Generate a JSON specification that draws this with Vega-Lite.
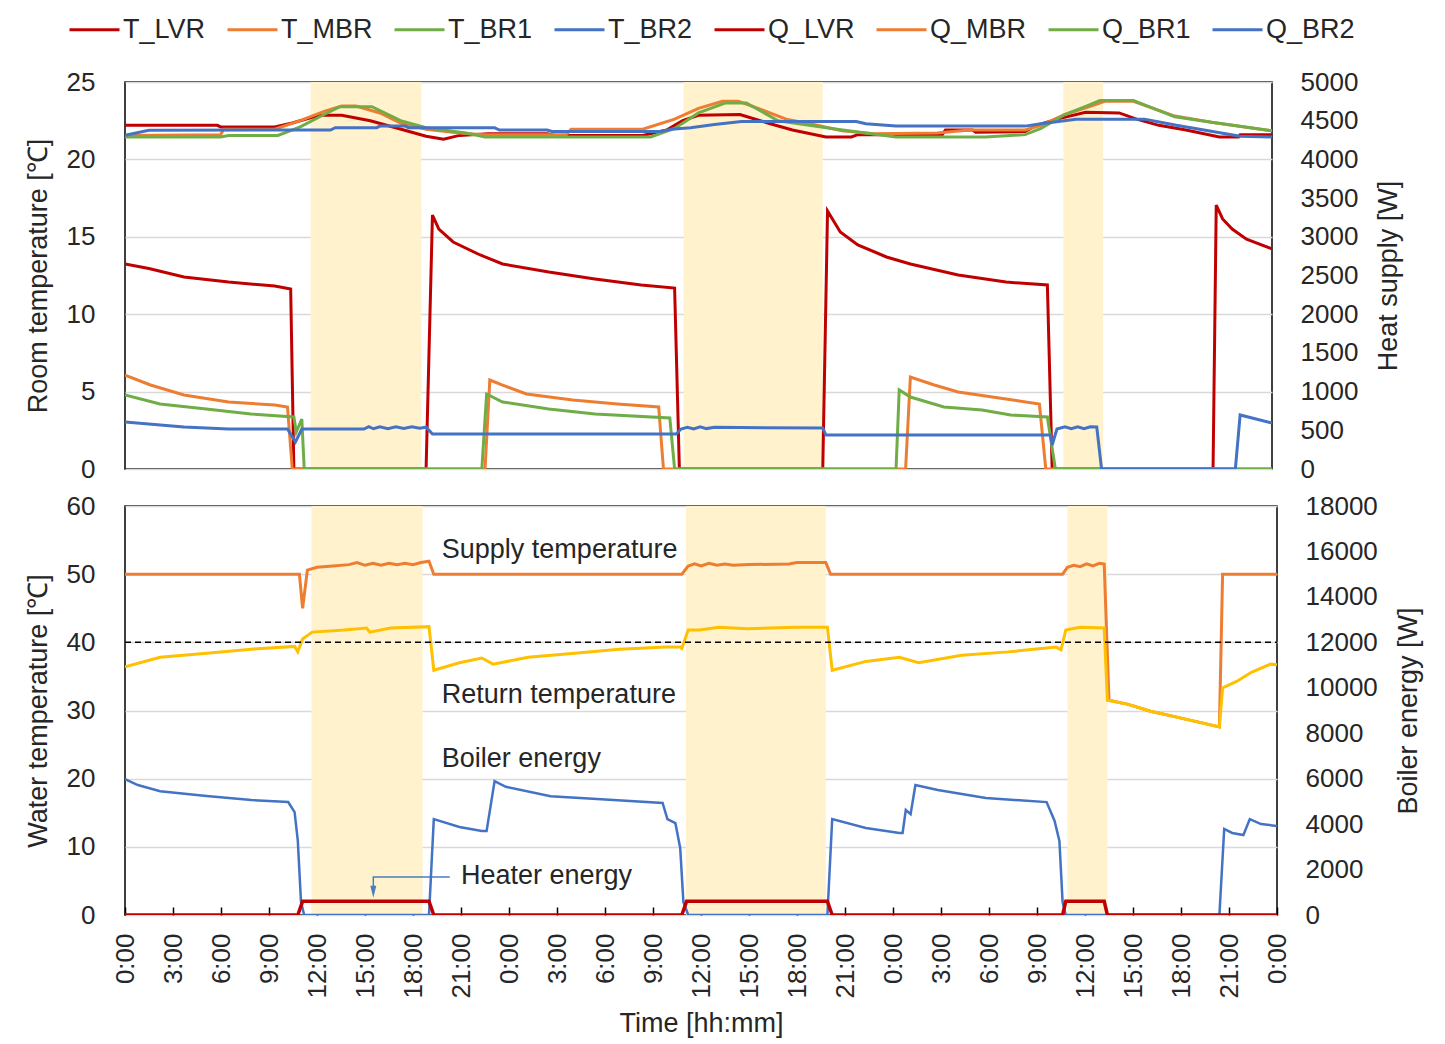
{
  "$schema": "https://vega.github.io/schema/vega-lite/v6.json",
  "background": "white",
  "padding": {"left": 23, "top": 2, "right": 5, "bottom": 4},
  "config": {
    "font": "Liberation Sans",
    "view": {"stroke": "#000000", "strokeWidth": 1.5},
    "axis": {
      "labelFont": "Liberation Sans", "labelFontSize": 26, "labelColor": "#262626",
      "titleFont": "Liberation Sans", "titleFontSize": 27, "titleFontWeight": "normal", "titleColor": "#262626",
      "domain": false, "ticks": false, "grid": false, "labelPadding": 30, "titlePadding": 14
    }
  },
  "datasets": {
    "bands": [
      {"h": 11.65, "h2": 18.6},
      {"h": 35.06, "h2": 43.8},
      {"h": 58.9, "h2": 61.4}
    ],
    "temp": [
      {"s":"T_LVR","h":0,"v":22.2},{"s":"T_LVR","h":5.8,"v":22.2},{"s":"T_LVR","h":6,"v":22.1},{"s":"T_LVR","h":9.4,"v":22.1},{"s":"T_LVR","h":10.5,"v":22.35},{"s":"T_LVR","h":12.2,"v":22.85},{"s":"T_LVR","h":13.6,"v":22.85},{"s":"T_LVR","h":15.4,"v":22.5},{"s":"T_LVR","h":17.5,"v":21.9},{"s":"T_LVR","h":18.9,"v":21.5},{"s":"T_LVR","h":20,"v":21.3},{"s":"T_LVR","h":21,"v":21.55},{"s":"T_LVR","h":22.8,"v":21.65},{"s":"T_LVR","h":26.5,"v":21.65},{"s":"T_LVR","h":27,"v":21.55},{"s":"T_LVR","h":32.5,"v":21.55},{"s":"T_LVR","h":34,"v":21.9},{"s":"T_LVR","h":35,"v":22.5},{"s":"T_LVR","h":36,"v":22.85},{"s":"T_LVR","h":38.6,"v":22.9},{"s":"T_LVR","h":40.5,"v":22.3},{"s":"T_LVR","h":41.9,"v":21.9},{"s":"T_LVR","h":44,"v":21.45},{"s":"T_LVR","h":45.6,"v":21.45},{"s":"T_LVR","h":46,"v":21.6},{"s":"T_LVR","h":51.3,"v":21.6},{"s":"T_LVR","h":51.5,"v":21.9},{"s":"T_LVR","h":53.2,"v":21.9},{"s":"T_LVR","h":53.4,"v":21.75},{"s":"T_LVR","h":56.5,"v":21.8},{"s":"T_LVR","h":57.2,"v":22.2},{"s":"T_LVR","h":58.5,"v":22.6},{"s":"T_LVR","h":60.3,"v":23.05},{"s":"T_LVR","h":62.4,"v":23.0},{"s":"T_LVR","h":63.5,"v":22.6},{"s":"T_LVR","h":64.9,"v":22.2},{"s":"T_LVR","h":66.6,"v":21.9},{"s":"T_LVR","h":68.7,"v":21.45},{"s":"T_LVR","h":69.9,"v":21.45},{"s":"T_LVR","h":70,"v":21.6},{"s":"T_LVR","h":72,"v":21.6},
      {"s":"T_MBR","h":0,"v":21.55},{"s":"T_MBR","h":6,"v":21.6},{"s":"T_MBR","h":6.2,"v":21.95},{"s":"T_MBR","h":9.4,"v":21.95},{"s":"T_MBR","h":11,"v":22.5},{"s":"T_MBR","h":12.5,"v":23.1},{"s":"T_MBR","h":13.6,"v":23.45},{"s":"T_MBR","h":14.5,"v":23.45},{"s":"T_MBR","h":16,"v":23.0},{"s":"T_MBR","h":17.3,"v":22.35},{"s":"T_MBR","h":18.9,"v":21.95},{"s":"T_MBR","h":21,"v":21.7},{"s":"T_MBR","h":22.5,"v":21.6},{"s":"T_MBR","h":27.7,"v":21.6},{"s":"T_MBR","h":28,"v":21.95},{"s":"T_MBR","h":32.5,"v":21.95},{"s":"T_MBR","h":34.5,"v":22.6},{"s":"T_MBR","h":36,"v":23.3},{"s":"T_MBR","h":37.5,"v":23.75},{"s":"T_MBR","h":38.5,"v":23.75},{"s":"T_MBR","h":40,"v":23.2},{"s":"T_MBR","h":41.5,"v":22.6},{"s":"T_MBR","h":43,"v":22.3},{"s":"T_MBR","h":45,"v":21.85},{"s":"T_MBR","h":47,"v":21.65},{"s":"T_MBR","h":51,"v":21.7},{"s":"T_MBR","h":53,"v":21.9},{"s":"T_MBR","h":56.5,"v":21.9},{"s":"T_MBR","h":57.5,"v":22.2},{"s":"T_MBR","h":59,"v":22.9},{"s":"T_MBR","h":60.5,"v":23.4},{"s":"T_MBR","h":61.5,"v":23.75},{"s":"T_MBR","h":63.3,"v":23.75},{"s":"T_MBR","h":65.9,"v":22.8},{"s":"T_MBR","h":68.2,"v":22.4},{"s":"T_MBR","h":71.6,"v":21.9},{"s":"T_MBR","h":72,"v":21.85},
      {"s":"T_BR1","h":0,"v":21.45},{"s":"T_BR1","h":6,"v":21.45},{"s":"T_BR1","h":6.5,"v":21.55},{"s":"T_BR1","h":9.6,"v":21.55},{"s":"T_BR1","h":11,"v":22.1},{"s":"T_BR1","h":12.5,"v":22.9},{"s":"T_BR1","h":13.5,"v":23.4},{"s":"T_BR1","h":15.5,"v":23.4},{"s":"T_BR1","h":17.3,"v":22.5},{"s":"T_BR1","h":18.9,"v":22.05},{"s":"T_BR1","h":21.4,"v":21.7},{"s":"T_BR1","h":22.6,"v":21.45},{"s":"T_BR1","h":33,"v":21.45},{"s":"T_BR1","h":34.5,"v":22.0},{"s":"T_BR1","h":36,"v":23.0},{"s":"T_BR1","h":37.7,"v":23.65},{"s":"T_BR1","h":39,"v":23.65},{"s":"T_BR1","h":41,"v":22.5},{"s":"T_BR1","h":44.7,"v":21.95},{"s":"T_BR1","h":48.4,"v":21.45},{"s":"T_BR1","h":54,"v":21.45},{"s":"T_BR1","h":56.5,"v":21.6},{"s":"T_BR1","h":57.5,"v":22.0},{"s":"T_BR1","h":59,"v":22.9},{"s":"T_BR1","h":60.5,"v":23.5},{"s":"T_BR1","h":61.2,"v":23.8},{"s":"T_BR1","h":63.3,"v":23.8},{"s":"T_BR1","h":65.9,"v":22.75},{"s":"T_BR1","h":68.2,"v":22.4},{"s":"T_BR1","h":72,"v":21.85},
      {"s":"T_BR2","h":0,"v":21.55},{"s":"T_BR2","h":1.5,"v":21.88},{"s":"T_BR2","h":12.9,"v":21.9},{"s":"T_BR2","h":13.2,"v":22.05},{"s":"T_BR2","h":15.8,"v":22.05},{"s":"T_BR2","h":16,"v":22.15},{"s":"T_BR2","h":17.6,"v":22.15},{"s":"T_BR2","h":17.8,"v":22.05},{"s":"T_BR2","h":23.2,"v":22.05},{"s":"T_BR2","h":23.5,"v":21.9},{"s":"T_BR2","h":26.5,"v":21.9},{"s":"T_BR2","h":26.8,"v":21.8},{"s":"T_BR2","h":33.6,"v":21.8},{"s":"T_BR2","h":34.3,"v":21.95},{"s":"T_BR2","h":35.5,"v":22.05},{"s":"T_BR2","h":37,"v":22.25},{"s":"T_BR2","h":38.7,"v":22.45},{"s":"T_BR2","h":45.9,"v":22.45},{"s":"T_BR2","h":46.5,"v":22.3},{"s":"T_BR2","h":48.4,"v":22.15},{"s":"T_BR2","h":56.5,"v":22.15},{"s":"T_BR2","h":57.5,"v":22.3},{"s":"T_BR2","h":59.7,"v":22.6},{"s":"T_BR2","h":64,"v":22.6},{"s":"T_BR2","h":66,"v":22.2},{"s":"T_BR2","h":68,"v":21.85},{"s":"T_BR2","h":70,"v":21.5},{"s":"T_BR2","h":72,"v":21.45}
    ],
    "heat": [
      {"s":"Q_LVR","h":0,"v":2650},{"s":"Q_LVR","h":1.5,"v":2590},{"s":"Q_LVR","h":3.7,"v":2480},{"s":"Q_LVR","h":6.5,"v":2416},{"s":"Q_LVR","h":9.4,"v":2364},{"s":"Q_LVR","h":10.4,"v":2326},{"s":"Q_LVR","h":10.6,"v":0},{"s":"Q_LVR","h":18.9,"v":0},{"s":"Q_LVR","h":19.3,"v":3280},{"s":"Q_LVR","h":19.7,"v":3100},{"s":"Q_LVR","h":20.6,"v":2933},{"s":"Q_LVR","h":22.3,"v":2765},{"s":"Q_LVR","h":23.7,"v":2649},{"s":"Q_LVR","h":26.6,"v":2545},{"s":"Q_LVR","h":29.5,"v":2455},{"s":"Q_LVR","h":32.4,"v":2377},{"s":"Q_LVR","h":34.5,"v":2338},{"s":"Q_LVR","h":34.8,"v":0},{"s":"Q_LVR","h":43.8,"v":0},{"s":"Q_LVR","h":44.1,"v":3333},{"s":"Q_LVR","h":44.9,"v":3062},{"s":"Q_LVR","h":46,"v":2894},{"s":"Q_LVR","h":47.8,"v":2739},{"s":"Q_LVR","h":49.3,"v":2649},{"s":"Q_LVR","h":52.3,"v":2506},{"s":"Q_LVR","h":55.3,"v":2416},{"s":"Q_LVR","h":57.9,"v":2377},{"s":"Q_LVR","h":58.2,"v":0},{"s":"Q_LVR","h":68.3,"v":0},{"s":"Q_LVR","h":68.5,"v":3410},{"s":"Q_LVR","h":68.9,"v":3230},{"s":"Q_LVR","h":69.5,"v":3100},{"s":"Q_LVR","h":70.4,"v":2970},{"s":"Q_LVR","h":72,"v":2843},
      {"s":"Q_MBR","h":0,"v":1214},{"s":"Q_MBR","h":1.6,"v":1085},{"s":"Q_MBR","h":3.7,"v":956},{"s":"Q_MBR","h":6.5,"v":866},{"s":"Q_MBR","h":9.4,"v":827},{"s":"Q_MBR","h":10.2,"v":801},{"s":"Q_MBR","h":10.5,"v":0},{"s":"Q_MBR","h":22.6,"v":0},{"s":"Q_MBR","h":22.9,"v":1150},{"s":"Q_MBR","h":23.7,"v":1085},{"s":"Q_MBR","h":25.2,"v":969},{"s":"Q_MBR","h":28.1,"v":891},{"s":"Q_MBR","h":30.9,"v":840},{"s":"Q_MBR","h":33.5,"v":801},{"s":"Q_MBR","h":33.8,"v":0},{"s":"Q_MBR","h":49,"v":0},{"s":"Q_MBR","h":49.3,"v":1189},{"s":"Q_MBR","h":50.8,"v":1085},{"s":"Q_MBR","h":52.3,"v":995},{"s":"Q_MBR","h":55.3,"v":904},{"s":"Q_MBR","h":57.4,"v":840},{"s":"Q_MBR","h":57.8,"v":0},{"s":"Q_MBR","h":72,"v":0},
      {"s":"Q_BR1","h":0,"v":956},{"s":"Q_BR1","h":2.2,"v":840},{"s":"Q_BR1","h":5.1,"v":775},{"s":"Q_BR1","h":7.9,"v":711},{"s":"Q_BR1","h":10.6,"v":672},{"s":"Q_BR1","h":10.75,"v":478},{"s":"Q_BR1","h":11.1,"v":646},{"s":"Q_BR1","h":11.25,"v":0},{"s":"Q_BR1","h":22.4,"v":0},{"s":"Q_BR1","h":22.7,"v":969},{"s":"Q_BR1","h":23.7,"v":866},{"s":"Q_BR1","h":26.6,"v":775},{"s":"Q_BR1","h":29.5,"v":711},{"s":"Q_BR1","h":34.2,"v":659},{"s":"Q_BR1","h":34.5,"v":0},{"s":"Q_BR1","h":48.4,"v":0},{"s":"Q_BR1","h":48.6,"v":1021},{"s":"Q_BR1","h":49.3,"v":930},{"s":"Q_BR1","h":51.4,"v":801},{"s":"Q_BR1","h":53.8,"v":762},{"s":"Q_BR1","h":55.6,"v":698},{"s":"Q_BR1","h":57.9,"v":672},{"s":"Q_BR1","h":58.4,"v":0},{"s":"Q_BR1","h":72,"v":0},
      {"s":"Q_BR2","h":0,"v":607},{"s":"Q_BR2","h":3.7,"v":543},{"s":"Q_BR2","h":6.5,"v":517},{"s":"Q_BR2","h":10.2,"v":517},{"s":"Q_BR2","h":10.7,"v":349},{"s":"Q_BR2","h":11.1,"v":517},{"s":"Q_BR2","h":15,"v":517},{"s":"Q_BR2","h":15.3,"v":548},{"s":"Q_BR2","h":15.6,"v":520},{"s":"Q_BR2","h":16,"v":545},{"s":"Q_BR2","h":16.5,"v":522},{"s":"Q_BR2","h":17,"v":545},{"s":"Q_BR2","h":17.5,"v":524},{"s":"Q_BR2","h":18,"v":545},{"s":"Q_BR2","h":18.5,"v":528},{"s":"Q_BR2","h":18.9,"v":540},{"s":"Q_BR2","h":19.3,"v":452},{"s":"Q_BR2","h":34.6,"v":452},{"s":"Q_BR2","h":34.9,"v":517},{"s":"Q_BR2","h":35.3,"v":540},{"s":"Q_BR2","h":35.7,"v":518},{"s":"Q_BR2","h":36.1,"v":545},{"s":"Q_BR2","h":36.5,"v":522},{"s":"Q_BR2","h":37,"v":540},{"s":"Q_BR2","h":38.6,"v":535},{"s":"Q_BR2","h":43.8,"v":530},{"s":"Q_BR2","h":44,"v":439},{"s":"Q_BR2","h":58.1,"v":439},{"s":"Q_BR2","h":58.2,"v":310},{"s":"Q_BR2","h":58.5,"v":517},{"s":"Q_BR2","h":59,"v":545},{"s":"Q_BR2","h":59.4,"v":520},{"s":"Q_BR2","h":59.8,"v":545},{"s":"Q_BR2","h":60.2,"v":520},{"s":"Q_BR2","h":60.6,"v":545},{"s":"Q_BR2","h":61,"v":543},{"s":"Q_BR2","h":61.3,"v":0},{"s":"Q_BR2","h":69.7,"v":0},{"s":"Q_BR2","h":70,"v":698},{"s":"Q_BR2","h":72,"v":594}
    ],
    "supply": [
      {"h":0,"v":50},{"h":10.9,"v":50},{"h":11.1,"v":45.0},{"h":11.4,"v":50.6},{"h":12,"v":51.0},{"h":13,"v":51.2},{"h":14,"v":51.4},{"h":14.5,"v":51.7},{"h":15,"v":51.3},{"h":15.5,"v":51.6},{"h":16,"v":51.3},{"h":16.5,"v":51.6},{"h":17,"v":51.4},{"h":17.5,"v":51.6},{"h":18,"v":51.4},{"h":18.5,"v":51.7},{"h":19,"v":51.9},{"h":19.3,"v":50},
      {"h":34.8,"v":50},{"h":35.2,"v":51.2},{"h":35.6,"v":51.5},{"h":36,"v":51.2},{"h":36.5,"v":51.6},{"h":37,"v":51.3},{"h":37.5,"v":51.5},{"h":38,"v":51.3},{"h":39,"v":51.4},{"h":41.5,"v":51.5},{"h":42,"v":51.7},{"h":43.8,"v":51.7},{"h":44.1,"v":50},
      {"h":58.6,"v":50},{"h":58.9,"v":51.0},{"h":59.3,"v":51.3},{"h":59.7,"v":51.1},{"h":60.1,"v":51.5},{"h":60.5,"v":51.2},{"h":60.9,"v":51.6},{"h":61.2,"v":51.5},{"h":61.5,"v":31.5},{"h":62.7,"v":30.9},{"h":64.1,"v":29.9},{"h":65.6,"v":29.1},{"h":68.4,"v":27.6},{"h":68.6,"v":50},{"h":72,"v":50}
    ],
    "ret": [
      {"h":0,"v":36.4},{"h":2.2,"v":37.8},{"h":5.1,"v":38.4},{"h":7.9,"v":39.0},{"h":10.6,"v":39.4},{"h":10.8,"v":38.6},{"h":11.1,"v":40.5},{"h":11.7,"v":41.5},{"h":13.7,"v":41.8},{"h":15.1,"v":42.1},{"h":15.3,"v":41.5},{"h":16.6,"v":42.1},{"h":19,"v":42.3},{"h":19.3,"v":35.9},{"h":20.9,"v":37.0},{"h":22.3,"v":37.7},{"h":23,"v":36.8},{"h":25.2,"v":37.8},{"h":28.1,"v":38.4},{"h":30.9,"v":39.0},{"h":33.8,"v":39.3},{"h":34.7,"v":39.3},{"h":34.8,"v":39.1},{"h":35.2,"v":41.8},{"h":35.9,"v":41.8},{"h":37.1,"v":42.2},{"h":38.9,"v":42.0},{"h":41.9,"v":42.2},{"h":43.9,"v":42.2},{"h":44.2,"v":35.9},{"h":46.3,"v":37.2},{"h":48.4,"v":37.8},{"h":49.6,"v":37.0},{"h":52.3,"v":38.1},{"h":55.2,"v":38.6},{"h":58.2,"v":39.3},{"h":58.5,"v":38.9},{"h":58.8,"v":41.8},{"h":59.7,"v":42.2},{"h":61.2,"v":42.1},{"h":61.4,"v":31.5},{"h":62.7,"v":30.9},{"h":64.1,"v":29.9},{"h":65.6,"v":29.1},{"h":68.4,"v":27.6},{"h":68.6,"v":33.3},{"h":69.5,"v":34.3},{"h":70.4,"v":35.6},{"h":71.6,"v":36.8},{"h":72,"v":36.7}
    ],
    "ref": [{"h":0,"v":40},{"h":72,"v":40}],
    "notes": [
      {"h":19.8,"v":53.6,"t":"Supply temperature"},
      {"h":19.8,"v":32.3,"t":"Return temperature"},
      {"h":19.8,"v":22.9,"t":"Boiler energy"},
      {"h":21.0,"v":5.7,"t":"Heater energy"}
    ],
    "arrow": [{"h":20.3,"v":5.57,"o":1},{"h":15.52,"v":5.57,"o":2},{"h":15.52,"v":4.0,"o":3}],
    "arrowhead": [{"h":15.52,"v":3.4}],
    "boiler": [
      {"h":0,"v":5980},{"h":0.8,"v":5720},{"h":2.2,"v":5450},{"h":5.1,"v":5240},{"h":7.9,"v":5060},{"h":10.2,"v":4970},{"h":10.6,"v":4530},{"h":10.8,"v":3270},{"h":11,"v":570},{"h":11.2,"v":0},{"h":19,"v":0},{"h":19.3,"v":4220},{"h":20.9,"v":3870},{"h":22.3,"v":3700},{"h":22.6,"v":3700},{"h":23.1,"v":5890},{"h":23.8,"v":5640},{"h":26.6,"v":5230},{"h":29.5,"v":5100},{"h":33.6,"v":4930},{"h":33.9,"v":4220},{"h":34.4,"v":4040},{"h":34.7,"v":2950},{"h":34.9,"v":570},{"h":35.2,"v":0},{"h":43.9,"v":0},{"h":44.2,"v":4220},{"h":46.3,"v":3830},{"h":48.4,"v":3610},{"h":48.6,"v":3610},{"h":48.8,"v":4620},{"h":49.1,"v":4440},{"h":49.4,"v":5720},{"h":50.8,"v":5500},{"h":53.8,"v":5150},{"h":57.6,"v":4970},{"h":58.1,"v":4140},{"h":58.4,"v":3260},{"h":58.6,"v":570},{"h":58.8,"v":0},{"h":68.4,"v":0},{"h":68.7,"v":3790},{"h":69.2,"v":3610},{"h":69.9,"v":3520},{"h":70.3,"v":4220},{"h":71,"v":4000},{"h":72,"v":3920}
    ],
    "heater": [
      {"h":0,"v":0},{"h":10.8,"v":0},{"h":11.1,"v":600},{"h":19,"v":600},{"h":19.3,"v":0},{"h":34.8,"v":0},{"h":35.1,"v":600},{"h":43.9,"v":600},{"h":44.2,"v":0},{"h":58.6,"v":0},{"h":58.8,"v":600},{"h":61.2,"v":600},{"h":61.4,"v":0},{"h":72,"v":0}
    ]
  },
  "spacing": 9,
  "resolve": {"scale": {"x": "independent", "y": "independent", "color": "independent"}},
  "vconcat": [
    {
      "width": 1147,
      "height": 387,
      "resolve": {"scale": {"y": "independent"}},
      "layer": [
        {
          "data": {"name": "bands"},
          "mark": {"type": "rect", "color": "#FFF2CC"},
          "encoding": {
            "x": {"field": "h", "type": "quantitative", "scale": {"domain": [0, 72], "nice": false, "zero": false}, "axis": null},
            "x2": {"field": "h2"}
          }
        },
        {
          "data": {"name": "temp"},
          "mark": {"type": "line", "strokeWidth": 3, "clip": true},
          "encoding": {
            "x": {"field": "h", "type": "quantitative", "scale": {"domain": [0, 72], "nice": false, "zero": false}, "axis": null},
            "y": {"field": "v", "type": "quantitative", "scale": {"domain": [0, 25], "nice": false},
                  "axis": {"values": [0, 5, 10, 15, 20, 25], "grid": true, "gridColor": "#D9D9D9", "gridWidth": 1.5, "title": "Room temperature [℃]", "orient": "left"}},
            "color": {"field": "s", "type": "nominal",
              "scale": {"domain": ["T_LVR","T_MBR","T_BR1","T_BR2","Q_LVR","Q_MBR","Q_BR1","Q_BR2"],
                        "range": ["#C00000","#ED7D31","#70AD47","#4472C4","#C00000","#ED7D31","#70AD47","#4472C4"]},
              "legend": {"orient": "none", "legendX": -57, "legendY": -79, "direction": "horizontal", "columns": 8, "title": null,
                         "symbolType": "stroke", "symbolSize": 2500, "symbolStrokeWidth": 3, "labelFontSize": 27, "labelFont": "Liberation Sans",
                         "labelColor": "#262626", "labelOffset": 2, "columnPadding": 15}}
          }
        },
        {
          "data": {"name": "heat"},
          "mark": {"type": "line", "strokeWidth": 3, "clip": true},
          "encoding": {
            "x": {"field": "h", "type": "quantitative", "scale": {"domain": [0, 72], "nice": false, "zero": false}, "axis": null},
            "y": {"field": "v", "type": "quantitative", "scale": {"domain": [0, 5000], "nice": false},
                  "axis": {"values": [0,500,1000,1500,2000,2500,3000,3500,4000,4500,5000], "format": "d", "orient": "right", "labelPadding": 28, "title": "Heat supply [W]", "titleAngle": 270, "titleBaseline": "top", "titlePadding": 18}},
            "color": {"field": "s", "type": "nominal"}
          }
        }
      ]
    },
    {
      "width": 1152,
      "height": 409,
      "resolve": {"scale": {"y": "independent"}},
      "layer": [
        {
          "data": {"name": "bands"},
          "mark": {"type": "rect", "color": "#FFF2CC"},
          "encoding": {
            "x": {"field": "h", "type": "quantitative", "scale": {"domain": [0, 72], "nice": false, "zero": false},
                  "axis": {"values": [0,3,6,9,12,15,18,21,24,27,30,33,36,39,42,45,48,51,54,57,60,63,66,69,72],
                           "labelExpr": "(datum.value % 24) + ':00'", "labelAngle": 270, "ticks": true, "tickSize": -8,
                           "tickColor": "#000000", "tickWidth": 1.5, "labelPadding": 26, "title": "Time [hh:mm]", "titlePadding": 12}},
            "x2": {"field": "h2"}
          }
        },
        {
          "encoding": {
            "x": {"field": "h", "type": "quantitative", "scale": {"domain": [0, 72], "nice": false, "zero": false}, "title": "Time [hh:mm]"},
            "y": {"field": "v", "type": "quantitative", "scale": {"domain": [0, 60], "nice": false},
                  "axis": {"values": [0, 10, 20, 30, 40, 50, 60], "grid": true, "gridColor": "#D9D9D9", "gridWidth": 1.5, "orient": "left"},
                  "title": "Water temperature [℃]"}
          },
          "layer": [
            {"data": {"name": "supply"}, "mark": {"type": "line", "color": "#ED7D31", "strokeWidth": 3, "clip": true}},
            {"data": {"name": "ret"}, "mark": {"type": "line", "color": "#FFC000", "strokeWidth": 3, "clip": true}},
            {"data": {"name": "ref"}, "mark": {"type": "line", "color": "#000000", "strokeWidth": 1.5, "strokeDash": [6, 4]}},
            {"data": {"name": "notes"}, "mark": {"type": "text", "align": "left", "baseline": "middle", "fontSize": 27, "font": "Liberation Sans", "color": "#262626"},
             "encoding": {"text": {"field": "t"}}},
            {"data": {"name": "arrow"}, "mark": {"type": "line", "color": "#4A7EBB", "strokeWidth": 1.5},
             "encoding": {"order": {"field": "o", "type": "quantitative"}}},
            {"data": {"name": "arrowhead"}, "mark": {"type": "point", "shape": "M-0.5,-1L0.5,-1L0,1Z", "size": 144, "filled": true, "color": "#4A7EBB", "opacity": 1}}
          ]
        },
        {
          "encoding": {
            "x": {"field": "h", "type": "quantitative", "scale": {"domain": [0, 72], "nice": false, "zero": false}, "title": "Time [hh:mm]"},
            "y": {"field": "v", "type": "quantitative", "scale": {"domain": [0, 18000], "nice": false},
                  "axis": {"values": [0,2000,4000,6000,8000,10000,12000,14000,16000,18000], "format": "d", "orient": "right", "labelPadding": 28, "titleAngle": 270, "titleBaseline": "top", "titlePadding": 18},
                  "title": "Boiler energy [W]"}
          },
          "layer": [
            {"data": {"name": "boiler"}, "mark": {"type": "line", "color": "#4472C4", "strokeWidth": 2.5, "clip": true}},
            {"data": {"name": "heater"}, "mark": {"type": "line", "color": "#C00000", "strokeWidth": 3.5, "clip": true}}
          ]
        }
      ]
    }
  ]
}
